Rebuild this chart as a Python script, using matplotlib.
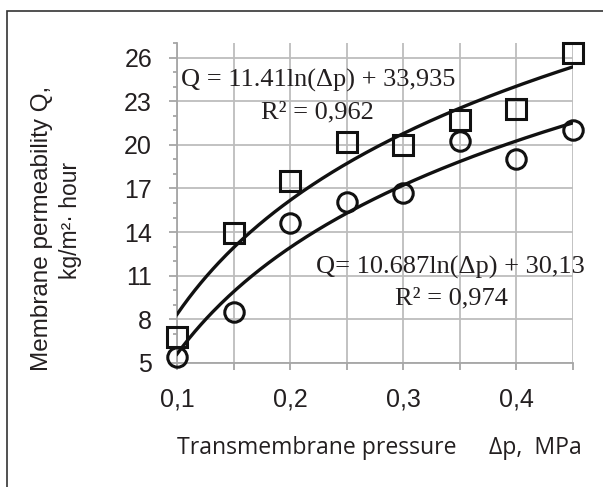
import numpy as np
import matplotlib
matplotlib.use("Agg")
import matplotlib.pyplot as plt
from matplotlib.ticker import MultipleLocator, FixedLocator, FuncFormatter
from matplotlib.patches import Rectangle

# Data
pressure = [0.10, 0.15, 0.20, 0.25, 0.30, 0.35, 0.40, 0.45]
series_square = [6.8, 13.9, 17.5, 20.2, 20.0, 21.7, 22.5, 26.3]
series_circle = [5.4, 8.5, 14.6, 16.1, 16.7, 20.3, 19.0, 21.0]
y_ticks = [5, 8, 11, 14, 17, 20, 23, 26]
x_tick_labels = {0.1: "0,1", 0.2: "0,2", 0.3: "0,3", 0.4: "0,4"}
eq1 = ["Q = 11.41ln(\u0394p) + 33,935", "R\u00b2 = 0,962"]
eq2 = ["Q= 10.687ln(\u0394p) + 30,13", "R\u00b2 = 0,974"]

W, H = 603, 487
fig = plt.figure(figsize=(W / 100, H / 100), dpi=100)
ax = fig.add_axes([177 / W, 1 - 362.7 / H, (573 - 177) / W, (362.7 - 43.3) / H])

grid_c = "#bdbdbd"
ax.set_xlim(0.1, 0.45)
ax.set_ylim(5, 27)
ax.xaxis.set_major_locator(FixedLocator(np.round(np.arange(0.1, 0.4501, 0.05), 2)))
ax.xaxis.set_major_formatter(FuncFormatter(lambda v, p: x_tick_labels.get(round(v, 2), "")))
ax.yaxis.set_major_locator(FixedLocator(y_ticks))
ax.yaxis.set_minor_locator(MultipleLocator(1))
ax.grid(True, which="major", color=grid_c, linewidth=1.3)
ax.set_axisbelow(True)
for s in ["top", "right"]:
    ax.spines[s].set_visible(False)
for s in ["left", "bottom"]:
    ax.spines[s].set_color("#a6a6a6")
    ax.spines[s].set_linewidth(1.3)
ax.tick_params(axis="y", which="major", length=6, width=1.3, color="#a6a6a6",
               labelsize=18, pad=12)
ax.tick_params(axis="y", which="minor", length=3, width=1.3, color="#a6a6a6")
ax.tick_params(axis="x", which="major", length=5, width=1.3, color="#a6a6a6",
               labelsize=18, pad=13)
for lab in ax.get_xticklabels() + ax.get_yticklabels():
    lab.set_fontfamily("Liberation Sans")
    lab.set_color("#231f20")

# trend lines (log fit)
xs = np.linspace(0.1, 0.45, 200)
for ys in (series_square, series_circle):
    a, b = np.polyfit(np.log(pressure), ys, 1)
    ax.plot(xs, a * np.log(xs) + b, color="#111111", lw=2.4, zorder=3)

ax.plot(pressure, series_square, linestyle="none", marker="s", markersize=14,
        markerfacecolor="none", markeredgecolor="#111111", markeredgewidth=2.2,
        clip_on=False, zorder=4)
ax.plot(pressure, series_circle, linestyle="none", marker="o", markersize=14,
        markerfacecolor="none", markeredgecolor="#111111", markeredgewidth=2.2,
        clip_on=False, zorder=4)

serif = "Liberation Serif"
fs_eq = 19
fig.text(181 / W, 1 - 80 / H, eq1[0], fontsize=fs_eq, family=serif, ha="left", va="center", color="#231f20")
fig.text(317 / W, 1 - 112 / H, eq1[1], fontsize=fs_eq, family=serif, ha="center", va="center", color="#231f20")
fig.text(585 / W, 1 - 267 / H, eq2[0], fontsize=fs_eq, family=serif, ha="right", va="center", color="#231f20")
fig.text(451 / W, 1 - 298 / H, eq2[1], fontsize=fs_eq, family=serif, ha="center", va="center", color="#231f20")

# axis labels
fig.text(42 / W, 1 - 228 / H, "Membrane permeability Q,", rotation=90, fontsize=17.5,
         family="Liberation Sans", ha="center", va="center", color="#231f20")
fig.text(70 / W, 1 - 220 / H, "kg/m\u00b2\u00b7 hour", rotation=90, fontsize=16.5,
         family="Liberation Sans", ha="center", va="center", color="#231f20")
fig.text(177 / W, 1 - 448 / H, "Transmembrane pressure", fontsize=16.6,
         family="Open Sans", ha="left", va="center", color="#231f20")
fig.text(582 / W, 1 - 448 / H, "\u0394p,  MPa", fontsize=16.6,
         family="Open Sans", ha="right", va="center", color="#231f20")

# figure frame
fig.patches.append(Rectangle((7 / W, -0.1), 1.2, 1 - 11 / H + 0.1, transform=fig.transFigure,
                             fill=False, edgecolor="#333333", linewidth=1.2))

fig.savefig("out.png", dpi=100)
